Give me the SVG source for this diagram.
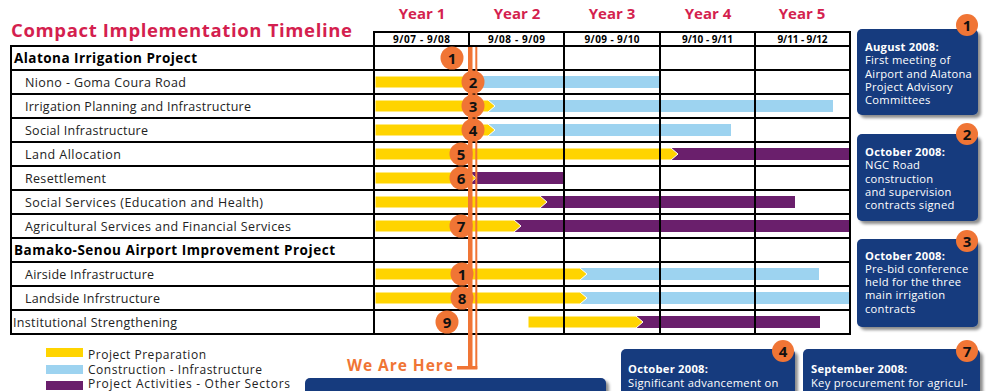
<svg xmlns="http://www.w3.org/2000/svg" width="989" height="391" viewBox="0 0 989 391">
<style>
.title{font-family:"Open Sans","Liberation Sans",sans-serif;font-weight:700;fill:#d41f4f}
.year{font-family:"Open Sans","Liberation Sans",sans-serif;font-weight:700;font-size:15px;fill:#d41f4f;text-anchor:middle}
.per{font-family:"Open Sans","Liberation Sans",sans-serif;font-weight:700;font-size:10px;fill:#000;text-anchor:middle}
.hdr{font-family:"Open Sans","Liberation Sans",sans-serif;font-weight:700;font-size:13.5px;fill:#000}
.lbl{font-family:"Open Sans","Liberation Sans",sans-serif;font-size:12.5px;fill:#222}
.grid{stroke:#000;stroke-width:2;fill:none}
.y{fill:#ffd400;stroke:#fff;stroke-width:1}
.b{fill:#9dd3f0}
.p{fill:#6a1f6c}
.badge{fill:#f07535}
.num{font-family:"Open Sans","Liberation Sans",sans-serif;font-weight:700;font-size:15px;fill:#111;text-anchor:middle}
.box{fill:#173a7e}
.bt{font-family:"Open Sans","Liberation Sans",sans-serif;font-size:11.2px;fill:#fff;letter-spacing:0.25px}
.bh{font-weight:700}
.here{font-family:"Open Sans","Liberation Sans",sans-serif;font-weight:700;font-size:15.5px;fill:#f07535}
.leg{font-family:"Open Sans","Liberation Sans",sans-serif;font-size:12px;fill:#222}
</style>
<defs>
<filter id="sh" x="-10%" y="-10%" width="130%" height="130%">
<feDropShadow dx="3" dy="3" stdDeviation="1.5" flood-color="#000" flood-opacity="0.45"/>
</filter>
</defs>

<rect width="989" height="391" fill="#fff"/>

<text class="title" x="11" y="37" font-size="18.5" textLength="341" lengthAdjust="spacing">Compact Implementation Timeline</text>

<g id="years">
<text class="year" x="422" y="19">Year 1</text>
<text class="year" x="517" y="19">Year 2</text>
<text class="year" x="612" y="19">Year 3</text>
<text class="year" x="708" y="19">Year 4</text>
<text class="year" x="802" y="19">Year 5</text>
<text class="per" x="421.5" y="43" textLength="57" lengthAdjust="spacing">9/07 - 9/08</text>
<text class="per" x="516.5" y="43" textLength="57" lengthAdjust="spacing">9/08 - 9/09</text>
<text class="per" x="612" y="43" textLength="55" lengthAdjust="spacing">9/09 - 9/10</text>
<text class="per" x="707.5" y="43" textLength="51" lengthAdjust="spacing">9/10 - 9/11</text>
<text class="per" x="802.5" y="43" textLength="50" lengthAdjust="spacing">9/11 - 9/12</text>
</g>

<g id="labels">
<text class="hdr" x="14" y="63" textLength="183" lengthAdjust="spacing">Alatona Irrigation Project</text>
<text class="lbl" x="25" y="86.5" textLength="161" lengthAdjust="spacing">Niono - Goma Coura Road</text>
<text class="lbl" x="25" y="110.5" textLength="226" lengthAdjust="spacing">Irrigation Planning and Infrastructure</text>
<text class="lbl" x="25" y="134.5" textLength="123" lengthAdjust="spacing">Social Infrastructure</text>
<text class="lbl" x="25" y="158.5" textLength="96" lengthAdjust="spacing">Land Allocation</text>
<text class="lbl" x="25" y="182.5" textLength="81" lengthAdjust="spacing">Resettlement</text>
<text class="lbl" x="25" y="206.5" textLength="238" lengthAdjust="spacing">Social Services (Education and Health)</text>
<text class="lbl" x="25" y="230.5" textLength="266" lengthAdjust="spacing">Agricultural Services and Financial Services</text>
<text class="hdr" x="14" y="255" textLength="321" lengthAdjust="spacing">Bamako-Senou Airport Improvement Project</text>
<text class="lbl" x="25" y="278.5" textLength="129" lengthAdjust="spacing">Airside Infrastructure</text>
<text class="lbl" x="25" y="302.5" textLength="135" lengthAdjust="spacing">Landside Infrstructure</text>
<text class="lbl" x="13" y="326.5" textLength="164" lengthAdjust="spacing">Institutional Strengthening</text>
</g>

<g id="bars">
<rect class="b" x="470" y="76" width="189" height="12"/>
<polygon class="y" points="375,76 471,76 478,82 471,88 375,88"/>
<rect class="b" x="488" y="100" width="345" height="12"/>
<polygon class="y" points="375,100 488,100 495,106 488,112 375,112"/>
<rect class="b" x="488" y="124" width="243" height="12"/>
<polygon class="y" points="375,124 488,124 495,130 488,136 375,136"/>
<rect class="p" x="670" y="148" width="180" height="12"/>
<polygon class="y" points="375,148 671,148 678,154 671,160 375,160"/>
<rect class="p" x="470" y="172" width="93" height="12"/>
<polygon class="y" points="375,172 469,172 476,178 469,184 375,184"/>
<rect class="p" x="540" y="196" width="255" height="12"/>
<polygon class="y" points="375,196 540,196 547,202 540,208 375,208"/>
<rect class="p" x="514" y="220" width="336" height="12"/>
<polygon class="y" points="375,220 514,220 521,226 514,232 375,232"/>
<rect class="b" x="580" y="268" width="239" height="12"/>
<polygon class="y" points="375,268 580,268 587,274 580,280 375,280"/>
<rect class="b" x="580" y="292" width="270" height="12"/>
<polygon class="y" points="375,292 580,292 587,298 580,304 375,304"/>
<rect class="p" x="636" y="316" width="184" height="12"/>
<polygon class="y" points="528,316 636,316 643,322 636,328 528,328"/>
</g>

<g id="grid" class="grid">
<line x1="374" y1="32" x2="850" y2="32"/>
<path d="M11,46H850M11,70H850M11,94H850M11,118H850M11,142H850M11,166H850M11,190H850M11,214H850M11,238H850M11,262H850M11,286H850M11,310H850M11,334H850"/>
<path d="M11,45V335M374,31V335M469,31V335M564,31V335M660,31V335M755,31V335M850,31V335"/>
</g>

<g id="we-are-here">
<rect x="468" y="47" width="4.5" height="322" fill="#f07535"/>
<rect x="475.3" y="47" width="2" height="322" fill="#f07535"/>
<rect x="457" y="366" width="20.3" height="3.5" fill="#f07535"/>
<text class="here" x="347" y="371" textLength="106" lengthAdjust="spacing">We Are Here</text>
</g>

<g id="markers">
<g id="m1"><circle class="badge" cx="452" cy="58" r="11.5"/><text class="num" x="452" y="63.5">1</text></g>
<g id="m2"><circle class="badge" cx="473" cy="82" r="11.5"/><text class="num" x="473" y="87.5">2</text></g>
<g id="m3"><circle class="badge" cx="473" cy="106" r="11.5"/><text class="num" x="473" y="111.5">3</text></g>
<g id="m4"><circle class="badge" cx="473" cy="130" r="11.5"/><text class="num" x="473" y="135.5">4</text></g>
<g id="m5"><circle class="badge" cx="461" cy="154" r="11.5"/><text class="num" x="461" y="159.5">5</text></g>
<g id="m6"><circle class="badge" cx="461" cy="178" r="11.5"/><text class="num" x="461" y="183.5">6</text></g>
<g id="m7"><circle class="badge" cx="461" cy="226" r="11.5"/><text class="num" x="461" y="231.5">7</text></g>
<g id="m1b"><circle class="badge" cx="462" cy="274" r="11.5"/><text class="num" x="462" y="279.5">1</text></g>
<g id="m8"><circle class="badge" cx="462" cy="298" r="11.5"/><text class="num" x="462" y="303.5">8</text></g>
<g id="m9"><circle class="badge" cx="447" cy="322" r="11.5"/><text class="num" x="447" y="327.5">9</text></g>
</g>

<g id="legend">
<rect x="46" y="348" width="37" height="9" fill="#ffd400"/>
<rect x="46" y="365" width="37" height="9" fill="#9dd3f0"/>
<rect x="46" y="381" width="37" height="9" fill="#6a1f6c"/>
<text class="leg" x="88" y="358.5" textLength="118" lengthAdjust="spacing">Project Preparation</text>
<text class="leg" x="88" y="373.5" textLength="174" lengthAdjust="spacing">Construction - Infrastructure</text>
<text class="leg" x="88" y="388" textLength="202" lengthAdjust="spacing">Project Activities - Other Sectors</text>
</g>

<g id="note1">
<rect class="box" x="857" y="29" width="121" height="86" rx="5" filter="url(#sh)"/>
<circle class="badge" cx="967" cy="25" r="11"/><text class="num" x="967" y="30.5">1</text>
<text class="bt" x="865" y="51"><tspan class="bh">August 2008:</tspan><tspan x="865" dy="13.3">First meeting of</tspan><tspan x="865" dy="13.3">Airport and Alatona</tspan><tspan x="865" dy="13.3">Project Advisory</tspan><tspan x="865" dy="13.3">Committees</tspan></text>
</g>
<g id="note2">
<rect class="box" x="857" y="134" width="121" height="87" rx="5" filter="url(#sh)"/>
<circle class="badge" cx="967" cy="134" r="11"/><text class="num" x="967" y="139.5">2</text>
<text class="bt" x="865" y="156"><tspan class="bh">October 2008:</tspan><tspan x="865" dy="13.3">NGC Road</tspan><tspan x="865" dy="13.3">construction</tspan><tspan x="865" dy="13.3">and supervision</tspan><tspan x="865" dy="13.3">contracts signed</tspan></text>
</g>
<g id="note3">
<rect class="box" x="857" y="239" width="121" height="88" rx="5" filter="url(#sh)"/>
<circle class="badge" cx="967" cy="241" r="11"/><text class="num" x="967" y="246.5">3</text>
<text class="bt" x="865" y="259.5"><tspan class="bh">October 2008:</tspan><tspan x="865" dy="13.3">Pre-bid conference</tspan><tspan x="865" dy="13.3">held for the three</tspan><tspan x="865" dy="13.3">main irrigation</tspan><tspan x="865" dy="13.3">contracts</tspan></text>
</g>
<g id="note-main">
<rect class="box" x="305" y="378" width="301" height="30" rx="5" filter="url(#sh)"/>
</g>
<g id="note4">
<rect class="box" x="621" y="349" width="174" height="60" rx="5" filter="url(#sh)"/>
<circle class="badge" cx="783" cy="351" r="11"/><text class="num" x="783" y="356.5">4</text>
<text class="bt" x="628" y="373"><tspan class="bh">October 2008:</tspan><tspan x="628" dy="13.8">Significant advancement on</tspan></text>
</g>
<g id="note7">
<rect class="box" x="803" y="349" width="177" height="60" rx="5" filter="url(#sh)"/>
<circle class="badge" cx="967" cy="351" r="11"/><text class="num" x="967" y="356.5">7</text>
<text class="bt" x="811" y="373"><tspan class="bh">September 2008:</tspan><tspan x="811" dy="13.8">Key procurement for agricul-</tspan></text>
</g>
</svg>
